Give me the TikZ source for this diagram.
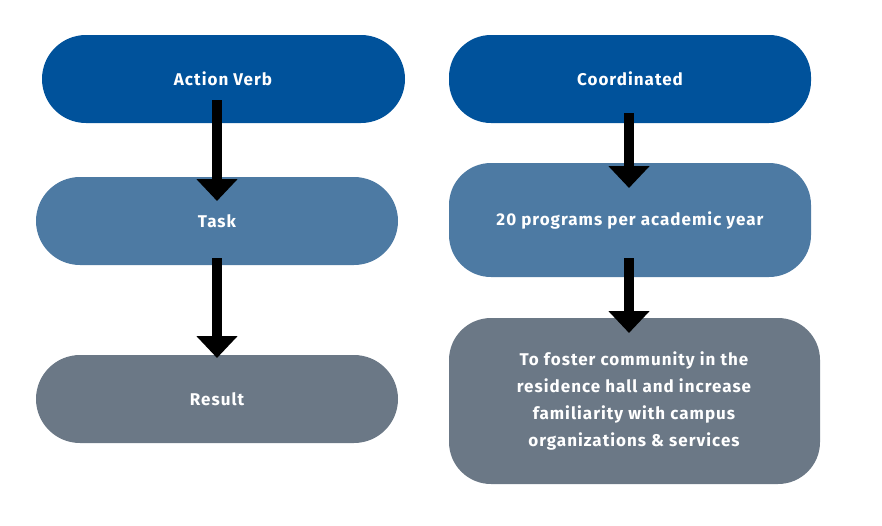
\documentclass[tikz,border=0pt]{standalone}
\usepackage{fontspec}
\setmainfont{Fira Sans}[LetterSpace=6]
\usetikzlibrary{arrows.meta}
\definecolor{dblue}{RGB}{0,82,155}
\definecolor{sblue}{RGB}{77,122,163}
\definecolor{sgray}{RGB}{107,120,134}
\begin{document}
\begin{tikzpicture}[x=1pt,y=-1pt,
  box/.style={rounded corners=#1,text=white,font=\fontsize{17}{27}\selectfont\bfseries,align=center},
  arr/.style={line width=10pt,-{Triangle[width=40pt,length=22pt]}}]
\useasboundingbox (0,0) rectangle (882,525);
\fill[dblue,rounded corners=44] (42,35) rectangle (405,123);
\node[box=0] (av) at (223,79) {Action Verb};
\fill[sblue,rounded corners=44] (36,177) rectangle (398,265);
\node[box=0] (task) at (217,221) {Task};
\fill[sgray,rounded corners=44] (36,355) rectangle (398,443);
\node[box=0] (res) at (217,399) {Result};
\fill[dblue,rounded corners=42] (449,35) rectangle (811,123);
\node[box=0] (co) at (630,79) {Coordinated};
\fill[sblue,rounded corners=42] (449,163) rectangle (811,277);
\node[box=0] (pr) at (630,220) {20 programs per academic year};
\fill[sgray,rounded corners=42] (449,318) rectangle (820,484);
\node[box=0] (fo) at (634,401) {To foster community in the\\residence hall and increase\\familiarity with campus\\organizations \& services};
\coordinate (a1) at (217,100); \coordinate (a2) at (217,201);
\coordinate (b1) at (217,258); \coordinate (b2) at (217,358);
\coordinate (c1) at (629,113); \coordinate (c2) at (629,188);
\coordinate (d1) at (629,258); \coordinate (d2) at (629,333);
\draw[arr] (a1) -- (a2);
\draw[arr] (b1) -- (b2);
\draw[arr] (c1) -- (c2);
\draw[arr] (d1) -- (d2);
\end{tikzpicture}
\end{document}
